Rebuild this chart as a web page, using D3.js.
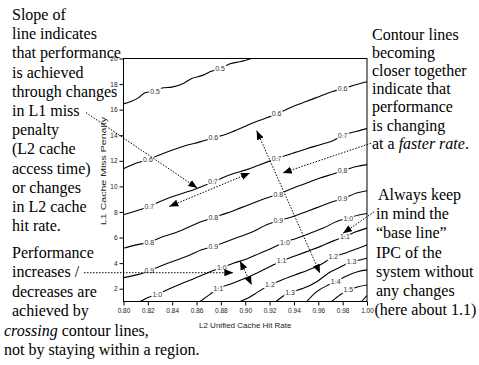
<!DOCTYPE html>
<html>
<head>
<meta charset="utf-8">
<script src="https://cdn.jsdelivr.net/npm/d3@7/dist/d3.min.js"></script>
<style>
	body { margin: 0; background: #fff; }
</style>
</head>
<body>
<svg id="chart" width="479" height="365"></svg>
<script>
// axis ticks
const hitRateTicks = [0.80, 0.82, 0.84, 0.86, 0.88, 0.90, 0.92, 0.94, 0.96, 0.98, 1.00]
const penaltyTicks = [2, 4, 6, 8, 10, 12, 14, 16, 18, 20]

// IPC contour lines, points are [L2 hit rate, L1 miss penalty]
const ipc05 = [[0.800, 16.45], [0.8122, 16.92], [0.8177, 17.32], [0.8259, 17.44], [0.8327, 17.71], [0.8396, 17.76], [0.8491, 18.05], [0.8560, 18.44], [0.8655, 18.70], [0.8710, 18.96], [0.8793, 19.20], [0.8875, 19.59], [0.8957, 19.75], [0.9053, 20.0]]
const ipc06 = [[0.800, 11.38], [0.8108, 11.83], [0.8201, 12.09], [0.8300, 12.48], [0.8409, 12.87], [0.8519, 13.21], [0.8628, 13.48], [0.8738, 13.79], [0.8848, 14.10], [0.8957, 14.52], [0.9066, 14.97], [0.9176, 15.36], [0.9258, 15.67], [0.9368, 16.14], [0.9505, 16.66], [0.9614, 17.05], [0.9723, 17.44], [0.9800, 17.63], [0.9915, 17.97], [1.000, 18.18]]
const ipc07 = [[0.800, 7.78], [0.8108, 8.09], [0.8212, 8.43], [0.8300, 8.82], [0.8382, 9.13], [0.8464, 9.39], [0.8587, 9.78], [0.8733, 10.34], [0.8875, 10.91], [0.9012, 11.31], [0.9121, 11.70], [0.9258, 12.17], [0.9395, 12.61], [0.9505, 12.95], [0.9614, 13.26], [0.9723, 13.58], [0.9800, 13.99], [0.9915, 14.31], [1.000, 14.52]]
const ipc08 = [[0.800, 5.17], [0.8108, 5.43], [0.8212, 5.64], [0.8327, 6.08], [0.8437, 6.42], [0.8546, 6.86], [0.8642, 7.25], [0.8738, 7.57], [0.8848, 7.91], [0.8957, 8.30], [0.9066, 8.70], [0.9176, 9.09], [0.9271, 9.40], [0.9395, 9.87], [0.9505, 10.26], [0.9614, 10.66], [0.9723, 10.97], [0.9800, 11.23], [0.9915, 11.56], [1.000, 11.70]]
const ipc09 = [[0.800, 2.87], [0.8108, 3.08], [0.8212, 3.39], [0.8327, 3.86], [0.8437, 4.25], [0.8546, 4.64], [0.8642, 5.04], [0.8738, 5.29], [0.8848, 5.69], [0.8957, 6.08], [0.9066, 6.47], [0.9176, 7.00], [0.9271, 7.31], [0.9395, 7.65], [0.9505, 8.04], [0.9614, 8.43], [0.9723, 8.82], [0.9800, 9.03], [0.9915, 9.48], [1.000, 9.66]]
const ipc10 = [[0.8136, 1.0], [0.8218, 1.38], [0.8278, 1.56], [0.8355, 1.90], [0.8464, 2.35], [0.8573, 2.76], [0.8683, 3.21], [0.8807, 3.65], [0.8902, 3.99], [0.9012, 4.33], [0.9121, 4.78], [0.9230, 5.22], [0.9326, 5.64], [0.9423, 5.95], [0.9532, 6.34], [0.9641, 6.74], [0.9751, 7.25], [0.9846, 7.52], [0.9942, 7.78], [1.000, 7.88]]
const ipc11 = [[0.8628, 1.0], [0.8710, 1.56], [0.8779, 2.03], [0.8875, 2.35], [0.8984, 2.76], [0.9094, 3.21], [0.9203, 3.73], [0.9299, 4.17], [0.9395, 4.51], [0.9505, 4.90], [0.9614, 5.29], [0.9723, 5.74], [0.9819, 6.08], [0.9915, 6.47], [1.000, 6.74]]
const ipc12 = [[0.8957, 1.0], [0.9039, 1.35], [0.9107, 1.77], [0.9203, 2.29], [0.9299, 2.68], [0.9409, 3.08], [0.9518, 3.47], [0.9628, 3.94], [0.9723, 4.49], [0.9819, 4.78], [0.9929, 5.17], [1.000, 5.43]]
const ipc13 = [[0.9253, 1.0], [0.9326, 1.51], [0.9368, 1.71], [0.9477, 2.03], [0.9587, 2.55], [0.9682, 3.21], [0.9778, 3.68], [0.9874, 4.12], [0.9942, 4.25], [1.000, 4.39]]
const ipc14 = [[0.9505, 1.0], [0.9587, 1.77], [0.9682, 2.29], [0.9743, 2.55], [0.9819, 2.94], [0.9929, 3.34], [1.000, 3.47]]
const ipc15 = [[0.9710, 1.0], [0.9778, 1.51], [0.9846, 1.90], [0.9929, 2.16], [1.000, 2.29]]
const ipc16 = [[0.9956, 1.0], [1.000, 1.47]]

const contours = [
	{ level: "0.5", points: ipc05, labelsAt: [0.8259, 0.8793] },
	{ level: "0.6", points: ipc06, labelsAt: [0.8201, 0.8738, 0.9258, 0.9800] },
	{ level: "0.7", points: ipc07, labelsAt: [0.8212, 0.8733, 0.9258, 0.9800] },
	{ level: "0.8", points: ipc08, labelsAt: [0.8212, 0.8738, 0.9271, 0.9800] },
	{ level: "0.9", points: ipc09, labelsAt: [0.8212, 0.8738, 0.9271, 0.9800] },
	{ level: "1.0", points: ipc10, labelsAt: [0.8278, 0.8807, 0.9326, 0.9846] },
	{ level: "1.1", points: ipc11, labelsAt: [0.8779, 0.9299, 0.9819] },
	{ level: "1.2", points: ipc12, labelsAt: [0.9203, 0.9723] },
	{ level: "1.3", points: ipc13, labelsAt: [0.9368, 0.9874] },
	{ level: "1.4", points: ipc14, labelsAt: [0.9743] },
	{ level: "1.5", points: ipc15, labelsAt: [0.9846] },
	{ level: "1.6", points: ipc16, labelsAt: [] }
]

// annotation arrows, in data coordinates
const arrows = [
	{ from: [0.7692, 15.77], to: [0.8606, 9.87], both: false },
	{ from: [0.8376, 8.43], to: [0.9039, 11.05], both: true },
	{ from: [0.9094, 14.36], to: [0.9614, 3.21], both: true },
	{ from: [1.0033, 13.38], to: [0.9308, 11.05], both: false },
	{ from: [1.0058, 8.01], to: [0.9803, 6.33], both: false },
	{ from: [0.7676, 3.25], to: [0.8902, 3.25], both: false },
	{ from: [0.8957, 4.17], to: [0.9053, 2.29], both: true }
]

// notes, *word* is set in italics
const noteSlope = ["Slope of", "line indicates", "that performance", "is achieved", "through changes", "in L1 miss", "penalty", "(L2 cache", "access time)", "or changes", "in L2 cache", "hit rate."]
const noteCrossing = ["Performance", "increases /", "decreases are", "achieved by", "*crossing* contour lines,", "not by staying within a region."]
const noteRate = ["Contour lines", "becoming", "closer together", "indicate that", "performance", "is changing", "at a *faster rate*."]
const noteBase = ["Always keep", "in mind the", "\u201cbase line\u201d", "IPC of the", "system without", "any changes", "(here about 1.1)"]

const sans = "Arial, 'Liberation Sans', Helvetica, sans-serif"
const serif = "'Times New Roman', 'Liberation Serif', serif"

const svg = d3.select("#chart")

const x = d3.scaleLinear().domain([0.8, 1.0]).range([123.5, 367])
const y = d3.scaleLinear().domain([1, 20]).range([301.5, 58.5])

const defs = svg.append("defs")
defs.append("clipPath").attr("id", "plot-clip")
	.append("rect")
	.attr("x", x(0.8)).attr("y", y(20))
	.attr("width", x(1.0) - x(0.8)).attr("height", y(1) - y(20))

defs.append("marker")
	.attr("id", "head")
	.attr("viewBox", "0 0 10 8")
	.attr("refX", 10).attr("refY", 4)
	.attr("markerWidth", 9).attr("markerHeight", 7.5)
	.attr("markerUnits", "userSpaceOnUse")
	.attr("orient", "auto-start-reverse")
	.append("path")
	.attr("d", "M0,0 L10,4 L0,8 z")
	.style("fill", "#000")

// contour lines
const line = d3.line()
	.x(d => x(d[0]))
	.y(d => y(d[1]))
	.curve(d3.curveMonotoneX)

const plot = svg.append("g").attr("clip-path", "url(#plot-clip)")

plot.selectAll(".contour")
	.data(contours)
	.enter()
	.append("path")
	.attr("class", "contour")
	.attr("d", d => line(d.points))
	.style("fill", "none")
	.style("stroke", "#000")
	.style("stroke-width", 1.1)

// penalty on a contour at a given hit rate (for label placement)
const penaltyAt = (points, h) => {
	for (let i = 0; i < points.length - 1; i++) {
		const a = points[i], b = points[i + 1]
		if (h >= a[0] && h <= b[0]) return a[1] + (b[1] - a[1]) * (h - a[0]) / (b[0] - a[0])
	}
	return points[points.length - 1][1]
}

const labels = []
contours.forEach(c => c.labelsAt.forEach(h => labels.push({ level: c.level, h: h, p: penaltyAt(c.points, h) })))

plot.selectAll(".contour-label")
	.data(labels)
	.enter()
	.append("text")
	.attr("class", "contour-label")
	.attr("x", d => x(d.h))
	.attr("y", d => y(d.p))
	.attr("dy", "0.35em")
	.attr("text-anchor", "middle")
	.text(d => d.level)
	.style("font-family", sans)
	.style("font-size", "7px")
	.style("fill", "#333")
	.style("stroke", "#fff")
	.style("stroke-width", 3)
	.style("paint-order", "stroke")

// axes
const yAxis = svg.append("g")
	.attr("transform", `translate(${x(0.8)},0)`)
	.call(d3.axisLeft(y).tickValues(penaltyTicks).tickSize(4).tickPadding(2).tickFormat(d3.format("d")))
const xAxis = svg.append("g")
	.attr("transform", `translate(0,${y(1)})`)
	.call(d3.axisBottom(x).tickValues(hitRateTicks).tickSize(4).tickPadding(3).tickFormat(d3.format(".2f")))

;[xAxis, yAxis].forEach(axis => {
	axis.select(".domain").remove()
	axis.selectAll("line").style("stroke", "#000")
	axis.selectAll("text")
		.style("font-family", sans)
		.style("font-size", "6.5px")
		.style("fill", "#222")
})

svg.append("rect")
	.attr("x", x(0.8)).attr("y", y(20))
	.attr("width", x(1.0) - x(0.8)).attr("height", y(1) - y(20))
	.style("fill", "none")
	.style("stroke", "#000")
	.style("stroke-width", 1)

svg.append("text")
	.attr("x", (x(0.8) + x(1.0)) / 2)
	.attr("y", 328)
	.attr("text-anchor", "middle")
	.text("L2 Unified Cache Hit Rate")
	.style("font-family", sans)
	.style("font-size", "8px")
	.style("fill", "#222")

svg.append("text")
	.attr("transform", "translate(106,171) rotate(-90)")
	.attr("text-anchor", "middle")
	.attr("textLength", 108)
	.attr("lengthAdjust", "spacingAndGlyphs")
	.text("L1 Cache Miss Penalty")
	.style("font-family", sans)
	.style("font-size", "8px")
	.style("fill", "#222")

// arrows
svg.selectAll(".arrow")
	.data(arrows)
	.enter()
	.append("line")
	.attr("class", "arrow")
	.attr("x1", d => x(d.from[0])).attr("y1", d => y(d.from[1]))
	.attr("x2", d => x(d.to[0])).attr("y2", d => y(d.to[1]))
	.attr("marker-end", "url(#head)")
	.attr("marker-start", d => d.both ? "url(#head)" : null)
	.style("stroke", "#000")
	.style("stroke-width", 1)
	.style("stroke-dasharray", "1.5,1.5")

// text notes
const drawNote = (lines, left, top, step, indents) => {
	const note = svg.append("text")
		.style("font-family", serif)
		.style("font-size", "16px")
		.style("fill", "#000")
	lines.forEach((txt, i) => {
		const row = note.append("tspan")
			.attr("x", indents && indents[i] != null ? indents[i] : left)
			.attr("y", top + i * step)
		txt.split("*").forEach((part, j) => {
			if (part === "") return
			row.append("tspan")
				.text(part)
				.style("font-style", j % 2 ? "italic" : "normal")
		})
	})
}

drawNote(noteSlope, 12, 20, 19.2)
drawNote(noteCrossing, 12, 258, 19.4, [null, null, null, null, 4, 4])
drawNote(noteRate, 372, 40, 18.1)
drawNote(noteBase, 376, 200, 19.2, [378, null, null, null, null, null, 374.5])
</script>
</body>
</html>
